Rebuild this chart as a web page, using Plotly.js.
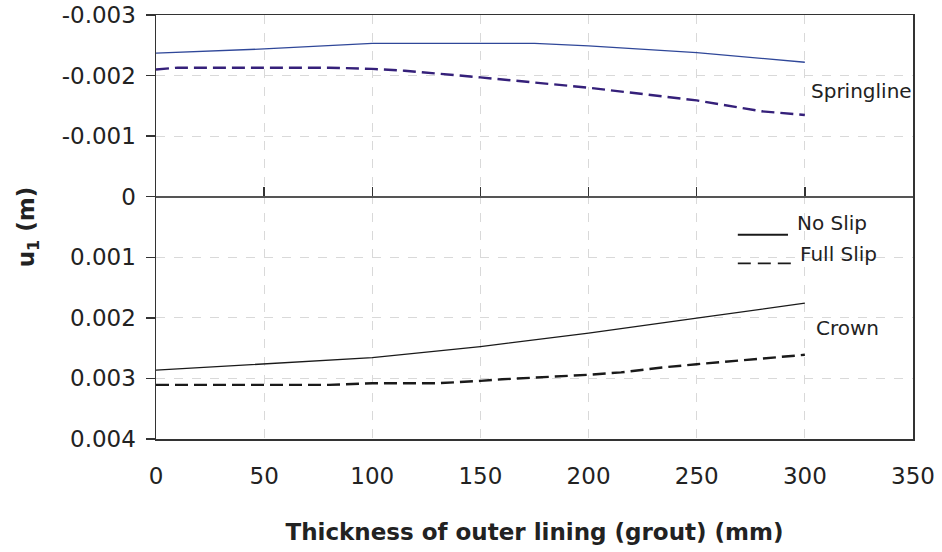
<!DOCTYPE html>
<html>
<head>
<meta charset="utf-8">
<script src="https://cdn.plot.ly/plotly-3.0.1.min.js"></script>
<style>html,body{margin:0;padding:0;background:#fff;}#chart{width:942px;height:552px;}</style>
</head>
<body>
<div id="chart"></div>
<script>
// Springline, No Slip
const springNoSlipX = [0, 50, 100, 150, 175, 200, 250, 300];
const springNoSlipY = [-0.00237, -0.00244, -0.00253, -0.00253, -0.00253, -0.00249, -0.00238, -0.00222];
// Springline, Full Slip
const springFullSlipX = [0, 10, 80, 100, 115, 150, 200, 250, 280, 300];
const springFullSlipY = [-0.00210, -0.00213, -0.00213, -0.00211, -0.00208, -0.00197, -0.00180, -0.00159, -0.00141, -0.00135];
// Crown, No Slip
const crownNoSlipX = [0, 50, 100, 150, 200, 250, 300];
const crownNoSlipY = [0.002864, 0.002765, 0.002656, 0.002474, 0.002253, 0.002005, 0.001757];
// Crown, Full Slip
const crownFullSlipX = [0, 80, 100, 130, 150, 160, 200, 215, 234, 250, 300];
const crownFullSlipY = [0.003107, 0.003107, 0.00308, 0.00308, 0.00304, 0.003014, 0.00294, 0.00290, 0.00282, 0.002765, 0.00261];

const xTicks = [0, 50, 100, 150, 200, 250, 300, 350];
const yTicks = [-0.003, -0.002, -0.001, 0, 0.001, 0.002, 0.003, 0.004];
const yTickText = ["-0.003", "-0.002", "-0.001", "0", "0.001", "0.002", "0.003", "0.004"];

const seriesLabels = ["No Slip", "Full Slip"];
const regionLabels = ["Springline", "Crown"];

const FONT = "DejaVu Sans, Liberation Sans, Arial, sans-serif";
const TXT = "#222";

const traces = [
  {x: springNoSlipX, y: springNoSlipY, mode: "lines", line: {color: "#2f4799", width: 1.3}, name: "Springline " + seriesLabels[0]},
  {x: springFullSlipX, y: springFullSlipY, mode: "lines", line: {color: "#35207a", width: 2.4, dash: "13px,6px"}, name: "Springline " + seriesLabels[1]},
  {x: crownNoSlipX, y: crownNoSlipY, mode: "lines", line: {color: "#1a1a1a", width: 1.3}, name: "Crown " + seriesLabels[0]},
  {x: crownFullSlipX, y: crownFullSlipY, mode: "lines", line: {color: "#1a1a1a", width: 2.4, dash: "13px,6px"}, name: "Crown " + seriesLabels[1]},
  // invisible trace carrying the axis that draws the tick marks on the zero line
  {x: [0, 350], y: [0, 0], xaxis: "x2", yaxis: "y", mode: "lines", line: {width: 0}, hoverinfo: "skip"}
];

const layout = {
  width: 942, height: 552,
  margin: {l: 156, r: 29, t: 15, b: 113},
  paper_bgcolor: "#fff", plot_bgcolor: "#fff",
  font: {family: FONT, color: TXT, size: 22},
  showlegend: false,
  xaxis: {
    range: [0, 350], tickvals: xTicks, ticktext: xTicks.map(String),
    showline: true, linecolor: "#333", linewidth: 1.5, mirror: true,
    ticks: "", ticklabelstandoff: 16,
    showgrid: true, gridcolor: "#d9d9d9", griddash: "dash", gridwidth: 1,
    zeroline: false,
    tickfont: {family: FONT, size: 23, color: TXT},
    title: {text: "<b>Thickness of outer lining (grout) (mm)</b>", font: {family: FONT, size: 23, color: TXT}, standoff: 36}
  },
  xaxis2: {
    overlaying: "x", anchor: "free", position: 4/7, side: "bottom",
    range: [0, 350], tickvals: xTicks, showticklabels: false,
    ticks: "inside", ticklen: 9, tickcolor: "#333", tickwidth: 1.5,
    showline: true, linecolor: "#555", linewidth: 2,
    showgrid: false, zeroline: false
  },
  yaxis: {
    range: [0.004, -0.003], tickvals: yTicks, ticktext: yTickText,
    showline: true, linecolor: "#333", linewidth: 1.5, mirror: true,
    ticks: "outside", ticklen: 9, tickcolor: "#333", tickwidth: 1.5,
    ticklabelstandoff: 5,
    showgrid: true, gridcolor: "#d9d9d9", griddash: "dash", gridwidth: 1,
    zeroline: false,
    tickfont: {family: FONT, size: 23, color: TXT},
    title: {text: "<b>u<sub>1</sub> (m)</b>", font: {family: FONT, size: 23, color: TXT}, standoff: 20}
  },
  shapes: [
    // legend samples
    {type: "line", xref: "x", yref: "y", x0: 269, x1: 292.2, y0: 0.000628, y1: 0.000628, line: {color: "#1a1a1a", width: 1.8}},
    {type: "line", xref: "x", yref: "y", x0: 269, x1: 294, y0: 0.0011, y1: 0.0011, line: {color: "#1a1a1a", width: 1.8, dash: "13px,7px"}}
  ],
  annotations: [
    {x: 302, y: -0.00175, xref: "x", yref: "y", text: regionLabels[0], showarrow: false, xanchor: "left", yanchor: "middle", font: {family: FONT, size: 20, color: TXT}},
    {x: 304, y: 0.00217, xref: "x", yref: "y", text: regionLabels[1], showarrow: false, xanchor: "left", yanchor: "middle", font: {family: FONT, size: 20, color: TXT}},
    {x: 295.5, y: 0.00044, xref: "x", yref: "y", text: seriesLabels[0], showarrow: false, xanchor: "left", yanchor: "middle", font: {family: FONT, size: 20, color: TXT}},
    {x: 296.8, y: 0.00094, xref: "x", yref: "y", text: seriesLabels[1], showarrow: false, xanchor: "left", yanchor: "middle", font: {family: FONT, size: 20, color: TXT}}
  ]
};

Plotly.newPlot("chart", traces, layout, {displayModeBar: false, staticPlot: true});
</script>
</body>
</html>
